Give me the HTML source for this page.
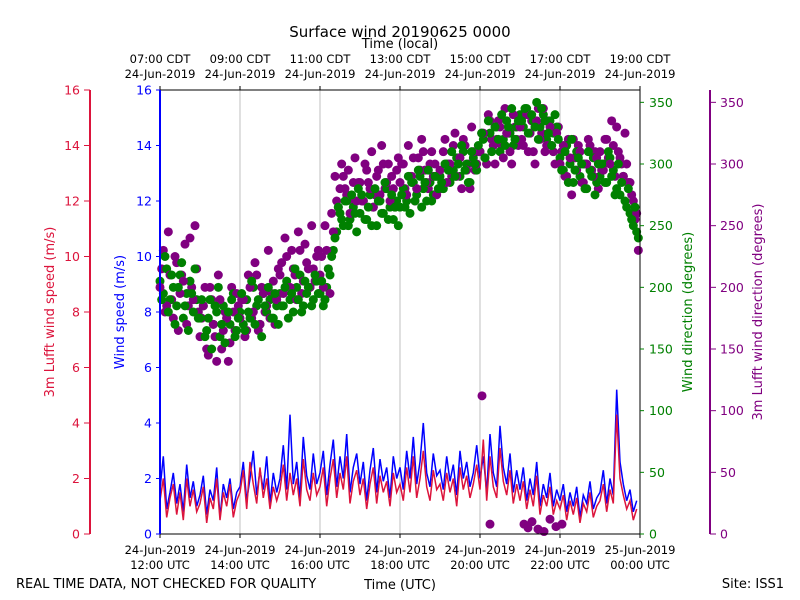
<!DOCTYPE html>
<html><head><meta charset="utf-8"><style>
body{margin:0;background:#fff;}
svg{display:block;font-family:"DejaVu Sans","Liberation Sans",sans-serif;}
</style></head><body>
<svg id="chart" width="800" height="600" viewBox="0 0 800 600" xmlns="http://www.w3.org/2000/svg">
<rect width="800" height="600" fill="#fff"/>
<g id="grid"></g>
<g id="series"></g>
<g id="axes"></g>
<text x="400" y="37" text-anchor="middle" font-size="15">Surface wind 20190625 0000</text>
<text x="400" y="48" text-anchor="middle" font-size="13">Time (local)</text>
<text x="400" y="589" text-anchor="middle" font-size="13">Time (UTC)</text>
<text x="16" y="588" font-size="13">REAL TIME DATA, NOT CHECKED FOR QUALITY</text>
<text x="784" y="588" text-anchor="end" font-size="13">Site: ISS1</text>
<text transform="translate(54,312) rotate(-90)" text-anchor="middle" font-size="13" fill="crimson">3m Lufft wind speed (m/s)</text>
<text transform="translate(124,312) rotate(-90)" text-anchor="middle" font-size="13" fill="blue">Wind speed (m/s)</text>
<text transform="translate(692,312) rotate(-90)" text-anchor="middle" font-size="13" fill="green">Wind direction (degrees)</text>
<text transform="translate(762,312) rotate(-90)" text-anchor="middle" font-size="13" fill="purple">3m Lufft wind direction (degrees)</text>
</svg>
<script>
const bottomTop=["24-Jun-2019","24-Jun-2019","24-Jun-2019","24-Jun-2019","24-Jun-2019","24-Jun-2019","25-Jun-2019"];
const bottomBot=["12:00 UTC","14:00 UTC","16:00 UTC","18:00 UTC","20:00 UTC","22:00 UTC","00:00 UTC"];
const topTop=["07:00 CDT","09:00 CDT","11:00 CDT","13:00 CDT","15:00 CDT","17:00 CDT","19:00 CDT"];
const topBot=["24-Jun-2019","24-Jun-2019","24-Jun-2019","24-Jun-2019","24-Jun-2019","24-Jun-2019","24-Jun-2019"];
const tickHours=[0,2,4,6,8,10,12];
const speedTicks=[0,2,4,6,8,10,12,14,16];
const dirTicks=[0,50,100,150,200,250,300,350];
const blueSpeed=[1.6,2.8,0.9,1.5,2.2,1.1,1.8,0.8,2.5,1.3,1.9,1.0,
1.4,2.1,0.7,1.6,1.2,2.4,0.6,1.8,1.3,2.0,0.9,1.5,
1.7,2.6,1.2,2.0,3.0,1.4,2.3,1.6,2.8,1.1,2.2,1.5,
2.0,3.2,1.6,4.3,1.8,2.6,1.3,3.5,2.1,1.6,2.9,1.8,
2.2,3.0,1.4,2.5,3.4,1.7,2.8,2.0,3.6,1.5,2.4,2.9,
1.8,2.6,1.2,2.3,3.1,1.5,2.7,1.9,2.4,1.3,2.8,2.0,
2.4,1.6,3.0,2.0,3.5,1.8,2.6,4.0,2.2,1.7,2.9,2.1,
2.3,1.6,2.8,1.9,2.5,1.4,3.0,2.0,2.6,1.7,2.2,3.2,
2.0,2.8,1.5,3.6,2.2,1.7,3.9,2.4,1.8,2.9,1.5,2.3,
1.6,2.4,1.2,2.0,1.4,2.6,1.0,1.8,1.3,2.2,1.0,1.6,
1.2,1.8,0.8,1.5,1.0,1.7,0.6,1.4,1.1,1.9,0.9,1.3,
1.5,2.3,1.1,2.0,1.4,5.2,2.6,1.8,1.2,1.6,0.8,1.2];
const redSpeed=[1.2,2.0,0.6,1.3,1.8,0.7,1.5,0.5,2.0,1.0,1.6,0.8,
1.1,1.7,0.4,1.3,0.9,2.0,0.5,1.5,1.0,1.8,0.6,1.2,
1.5,2.3,0.9,2.6,1.8,1.1,2.4,1.3,2.0,0.9,1.7,1.2,
1.6,2.5,1.2,2.2,1.4,2.0,1.0,2.7,1.6,1.2,2.2,1.4,
1.7,2.4,1.0,2.0,2.7,1.3,2.2,1.6,2.8,1.1,1.9,2.3,
1.4,2.0,0.9,1.8,2.4,1.1,2.1,1.5,1.9,1.0,2.2,1.5,
1.8,1.2,2.4,1.5,2.8,1.3,2.0,3.0,1.7,1.2,2.3,1.6,
1.8,1.2,2.2,1.5,2.0,1.0,2.4,1.6,2.1,1.3,1.8,2.5,
1.6,3.4,1.2,2.8,1.7,1.3,3.1,1.9,1.4,2.3,1.1,1.8,
1.2,1.9,0.9,1.6,1.0,2.1,0.7,1.4,1.0,1.7,0.7,1.2,
0.9,1.4,0.5,1.2,0.7,1.3,0.4,1.1,0.8,1.5,0.6,1.0,
1.2,1.8,0.8,1.6,1.1,4.3,2.0,1.4,0.9,1.2,0.5,0.9];
const greenDir=[205,195,215,190,200,185,210,175,195,205,180,190,
175,185,165,190,170,180,160,185,175,170,195,165,
180,170,190,175,200,185,170,195,180,190,175,185,
195,185,205,190,180,200,210,185,195,200,190,205,
195,185,200,210,230,245,260,250,270,255,265,245,
260,270,255,275,265,250,270,260,280,265,255,270,
265,280,270,260,285,275,290,280,270,285,275,290,
290,280,300,285,295,305,290,310,300,285,305,295,
310,320,300,325,315,330,310,320,335,325,315,330,
340,330,345,325,335,350,330,340,320,335,325,330,
305,295,315,300,285,310,290,300,280,295,305,285,
290,300,285,305,295,280,275,290,265,260,250,245];
const greenDirB=[190,225,180,210,170,200,220,185,165,195,215,175,
190,160,175,150,185,200,170,155,180,190,160,175,
195,165,180,205,170,190,160,185,200,175,195,170,
185,200,175,195,215,190,180,205,200,185,210,195,
205,190,215,225,240,265,255,270,250,275,260,280,
275,255,265,250,280,270,260,285,255,275,265,250,
275,265,290,285,270,295,265,285,295,270,290,280,
285,300,295,310,290,300,315,295,285,310,300,315,
325,305,335,310,330,320,340,315,330,345,320,335,
335,345,325,340,330,320,345,335,325,315,340,320,
295,310,285,320,295,305,300,280,310,290,275,300,
300,285,310,290,275,300,285,270,280,255,265,240];
const purpleDir=[200,230,185,210,175,220,195,205,170,240,190,215,
160,185,150,200,170,140,190,165,175,155,180,195,
175,190,165,200,180,210,170,195,185,175,205,190,
210,195,225,200,215,190,230,205,220,200,215,225,
210,200,230,195,245,270,280,290,275,260,285,270,
285,270,295,280,265,290,275,300,285,270,280,295,
285,300,275,290,305,280,295,310,285,300,290,275,
295,310,285,300,315,290,305,320,295,280,310,300,
310,325,300,335,315,320,330,305,325,310,340,320,
330,315,340,325,310,335,320,345,315,330,310,325,
300,315,290,305,320,295,310,285,300,315,290,305,
310,295,320,300,315,330,305,290,300,285,270,260];
const purpleDirB=[215,180,245,190,225,165,210,235,185,200,250,180,
175,200,145,190,160,210,150,180,140,200,165,185,
190,160,210,175,220,165,200,180,230,195,170,215,
220,240,200,230,210,245,195,235,215,250,205,230,
225,250,215,260,290,265,300,280,295,270,305,285,
270,300,285,310,275,295,315,280,300,290,265,305,
300,280,315,290,270,305,320,295,280,310,300,290,
280,320,300,290,325,305,280,315,300,330,295,310,
325,305,340,320,300,335,315,345,325,300,330,315,
320,340,310,335,300,345,325,310,335,315,300,330,
310,290,320,275,305,315,285,300,320,295,310,280,
295,320,305,335,290,310,300,325,285,275,255,230];
const outlierHours=[8.05,8.25,9.1,9.3,9.45,9.6,9.75,9.9,10.05,9.2];
const outlierDir=[112,8,8,10,4,2,12,6,8,5];

const NS="http://www.w3.org/2000/svg";
const X0=160,X1=640,Y0=534,Y1=90;
const xH=h=>X0+(X1-X0)*h/12;
const yS=v=>Y0-(Y0-Y1)*v/16;
const yD=v=>Y0-(Y0-Y1)*v/360;
const idxH=i=>i*5/60;
const idxHB=i=>i*5/60+2.5/60;
function mk(tag,attrs,parent,txt){const e=document.createElementNS(NS,tag);for(const k in attrs)e.setAttribute(k,attrs[k]);if(txt!==undefined)e.textContent=txt;parent.appendChild(e);return e;}
const grid=document.getElementById('grid'),ser=document.getElementById('series'),ax=document.getElementById('axes');
tickHours.forEach((h,i)=>{
 if(i>0&&i<tickHours.length-1){const g=mk('line',{x1:xH(h),x2:xH(h),y1:Y1,y2:Y0,stroke:'#b0b0b0','stroke-width':0.8},grid);
 
 }
 mk('line',{x1:xH(h),x2:xH(h),y1:Y0,y2:Y0+4,stroke:'#000'},ax);
 mk('line',{x1:xH(h),x2:xH(h),y1:Y1,y2:Y1-4,stroke:'#000'},ax);
 const l1=mk('text',{x:xH(h),y:554,'text-anchor':'middle','font-size':11.5},ax,bottomTop[i]);
 
 
 mk('text',{x:xH(h),y:569,'text-anchor':'middle','font-size':11.5},ax,bottomBot[i]);
 const l3=mk('text',{x:xH(h),y:63,'text-anchor':'middle','font-size':11.5},ax,topTop[i]);
 
 
 mk('text',{x:xH(h),y:78,'text-anchor':'middle','font-size':11.5},ax,topBot[i]);
});
function line(arr,color,name){let d='';arr.forEach((v,i)=>{d+=(i?'L':'M')+xH(idxH(i)).toFixed(1)+','+yS(v).toFixed(1);});
 const p=mk('path',{d:d,fill:'none',stroke:color,'stroke-width':1.5},ser);
 
 }
function dots(arr,color,name,tf){const g=mk('g',{fill:color},ser);
 
 
 arr.forEach((v,i)=>{mk('circle',{cx:xH(tf(i)),cy:yD(v),r:4.5},g);});}
line(blueSpeed,'blue','blue-wind-speed-line');
line(redSpeed,'crimson','red-lufft-speed-line');
dots(purpleDirB,'purple','purple-lufft-direction-points-b',idxHB);
dots(greenDir,'green','green-wind-direction-points',idxH);
dots(purpleDir,'purple','purple-lufft-direction-points',idxH);
dots(greenDirB,'green','green-wind-direction-points-b',idxHB);
const og=mk('g',{fill:'purple'},ser);


outlierHours.forEach((h,i)=>mk('circle',{cx:xH(h),cy:yD(outlierDir[i]),r:4.5},og));
mk('line',{x1:X0,x2:X1,y1:Y1,y2:Y1,stroke:'#000'},ax);
mk('line',{x1:X0,x2:X1,y1:Y0,y2:Y0,stroke:'#000'},ax);
mk('line',{x1:X1,x2:X1,y1:Y1,y2:Y0,stroke:'#000'},ax);
mk('line',{x1:X0,x2:X0,y1:Y1,y2:Y0,stroke:'blue','stroke-width':2},ax);
mk('line',{x1:90,x2:90,y1:Y1,y2:Y0,stroke:'crimson','stroke-width':2},ax);
mk('line',{x1:710,x2:710,y1:Y1,y2:Y0,stroke:'purple','stroke-width':2},ax);
speedTicks.forEach(v=>{
 mk('line',{x1:X0-4,x2:X0,y1:yS(v),y2:yS(v),stroke:'blue'},ax);
 const a=mk('text',{x:X0-8,y:yS(v)+4.5,'text-anchor':'end','font-size':12.5,fill:'blue'},ax,String(v));
 
 
 mk('line',{x1:84,x2:90,y1:yS(v),y2:yS(v),stroke:'crimson'},ax);
 const b=mk('text',{x:80,y:yS(v)+4.5,'text-anchor':'end','font-size':12.5,fill:'crimson'},ax,String(v));
 
 
});
dirTicks.forEach(v=>{
 mk('line',{x1:X1,x2:X1+4,y1:yD(v),y2:yD(v),stroke:'green'},ax);
 const a=mk('text',{x:X1+9,y:yD(v)+4.5,'font-size':12.5,fill:'green'},ax,String(v));
 
 
 mk('line',{x1:710,x2:716,y1:yD(v),y2:yD(v),stroke:'purple'},ax);
 const b=mk('text',{x:720,y:yD(v)+4.5,'font-size':12.5,fill:'purple'},ax,String(v));
 
 
});
</script>
</body></html>
